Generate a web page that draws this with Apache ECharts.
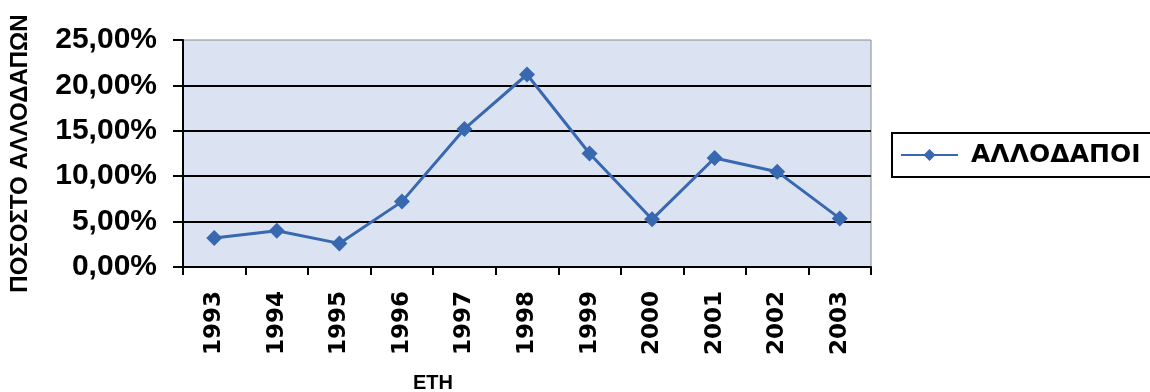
<!DOCTYPE html>
<html>
<head>
<meta charset="utf-8">
<script src="https://cdn.jsdelivr.net/npm/echarts@6/dist/echarts.min.js"></script>
<style>html,body{margin:0;padding:0;background:#fff;}#c{width:1150px;height:392px;}</style>
</head>
<body>
<div id="c"></div>
<script>
const years = ['1993','1994','1995','1996','1997','1998','1999','2000','2001','2002','2003'];
const foreigners = [3.2, 4.0, 2.6, 7.2, 15.2, 21.2, 12.5, 5.25, 12.0, 10.5, 5.35];
const yTicks = { min: 0, max: 25, interval: 5 };
const seriesName = 'ΑΛΛΟΔΑΠΟΙ';
const yName = 'ΠΟΣΟΣΤΟ ΑΛΛΟΔΑΠΩΝ';
const xName = 'ΕΤΗ';

const chart = echarts.init(document.getElementById('c'), null, {renderer: 'canvas'});
chart.setOption({
  animation: false,
  backgroundColor: '#ffffff',
  grid: {
    left: 183, right: 279, top: 40, bottom: 125,
    outerBoundsMode: 'none',
    containLabel: false,
    show: true, backgroundColor: '#dbe2f1', borderColor: '#8a8a8a', borderWidth: 1
  },
  legend: {
    data: [seriesName],
    left: 892, top: 133,
    orient: 'horizontal',
    padding: [8, 20, 8, 8],
    borderColor: '#000', borderWidth: 2,
    itemWidth: 57, itemHeight: 15, itemGap: 10,
    textStyle: {
      fontFamily: 'DejaVu Sans', fontWeight: 'bold', fontSize: 25,
      color: '#000', lineHeight: 28, padding: [0, 0, 0, 8]
    }
  },
  xAxis: {
    type: 'category',
    data: years,
    boundaryGap: true,
    name: xName,
    nameLocation: 'middle',
    nameGap: 106,
    nameTextStyle: {
      fontFamily: 'Liberation Sans', fontWeight: 'bold', fontSize: 20, color: '#000',
      padding: [0, 188, 0, 0]
    },
    axisLine: { lineStyle: { color: '#000', width: 2 } },
    axisTick: { show: true, length: 8, lineStyle: { color: '#000', width: 2 } },
    axisLabel: {
      rotate: 90, margin: 24, interval: 0,
      fontFamily: 'DejaVu Sans', fontWeight: 'bold', fontSize: 23, color: '#000'
    },
    splitLine: { show: false }
  },
  yAxis: {
    type: 'value',
    min: yTicks.min, max: yTicks.max, interval: yTicks.interval,
    name: yName,
    nameLocation: 'middle',
    nameGap: 151,
    nameRotate: 90,
    nameTextStyle: {
      fontFamily: 'Liberation Sans', fontWeight: 'bold', fontSize: 24, color: '#000'
    },
    axisLine: { show: true, lineStyle: { color: '#000', width: 2 } },
    axisTick: { show: true, length: 10, lineStyle: { color: '#000', width: 2 } },
    axisLabel: {
      margin: 26,
      fontFamily: 'Liberation Sans', fontWeight: 'bold', fontSize: 30, color: '#000',
      formatter: v => v.toFixed(2).replace('.', ',') + '%'
    },
    splitLine: { show: true, showMaxLine: false, lineStyle: { color: '#000', width: 2 } }
  },
  series: [{
    name: seriesName,
    type: 'line',
    data: foreigners,
    symbol: 'diamond',
    symbolSize: 16,
    lineStyle: { color: '#3768b0', width: 3 },
    itemStyle: { color: '#3768b0' }
  }]
});
</script>
</body>
</html>
